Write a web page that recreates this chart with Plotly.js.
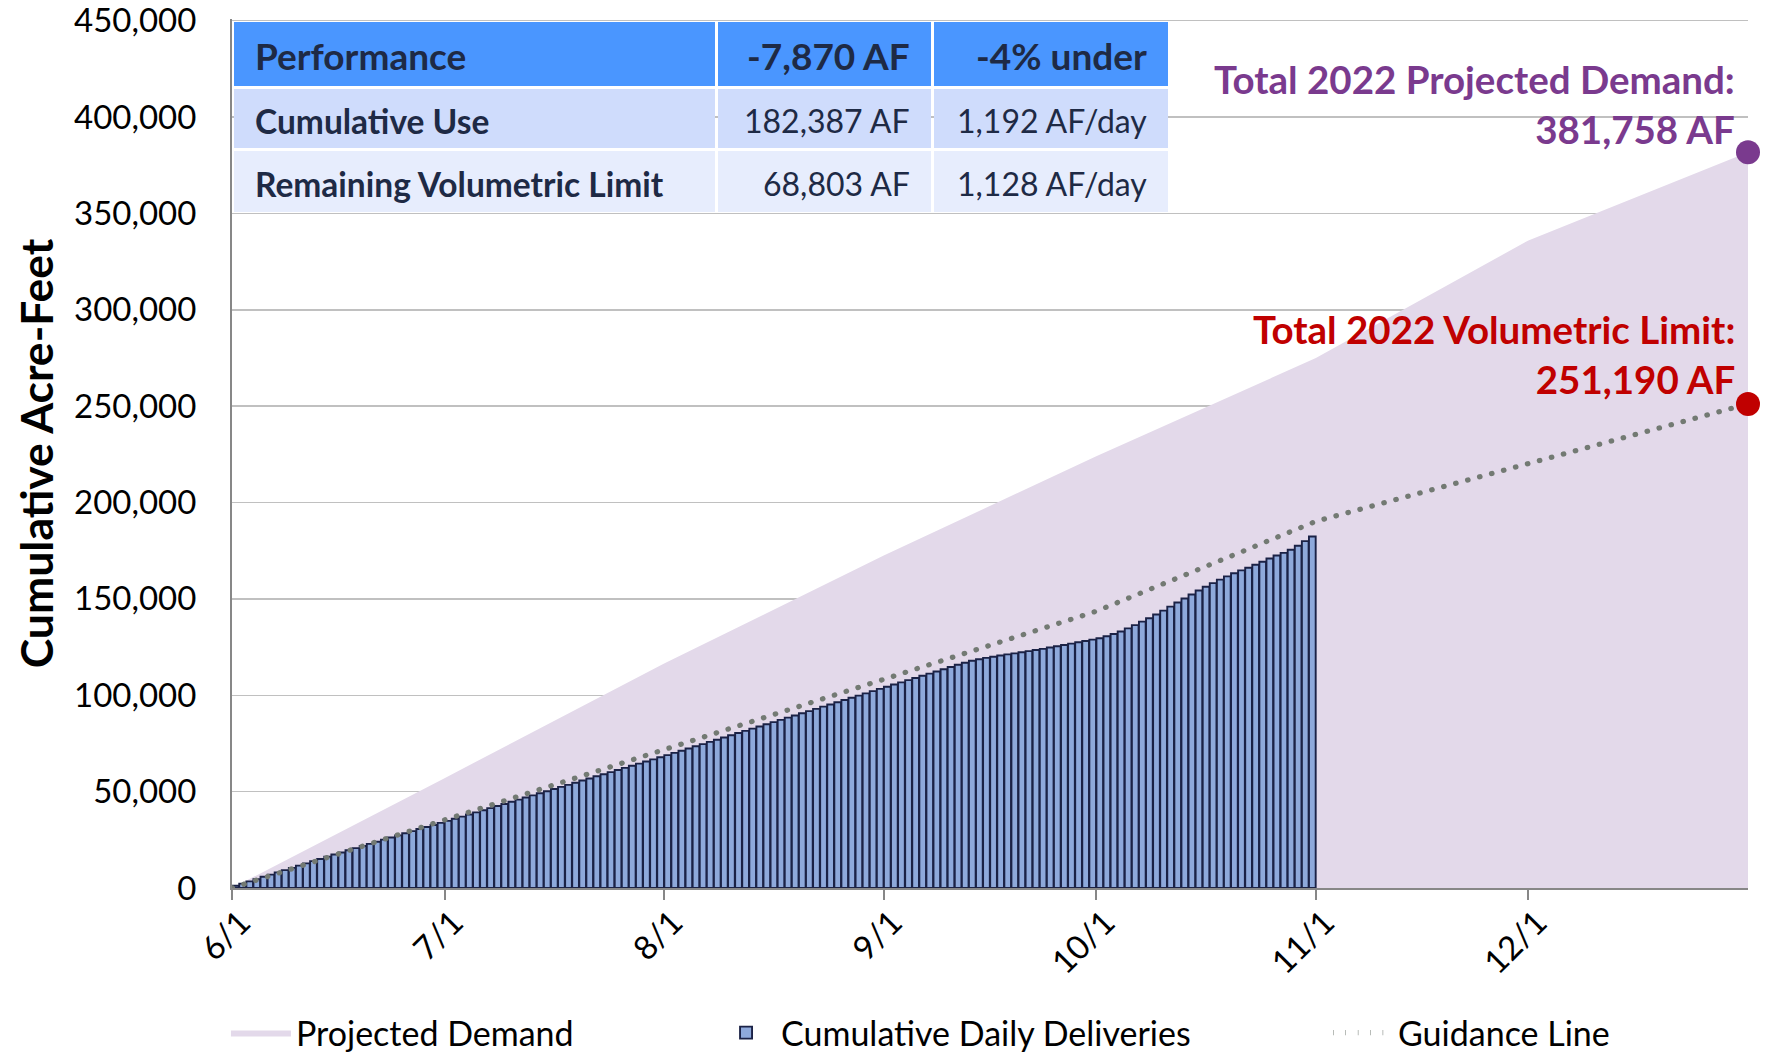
<!DOCTYPE html>
<html><head><meta charset="utf-8">
<script src="https://cdn.plot.ly/plotly-3.0.1.min.js"></script>
<style>
html,body{margin:0;padding:0;background:#fff;}
#chart{width:1774px;height:1057px;}
.scatterlayer .js-line, .legend .js-line {stroke-linecap: round;}
</style></head><body><div id="chart"></div>
<script>
// ---- data ----
const deliveryStart = [2022, 5, 1]; // 2022-06-01
const deliveries = [
  // June
  1150, 2280, 3450, 4620, 5800, 6950, 8120, 9300, 10450, 11620,
  12800, 13920, 15050, 16200, 17350, 18450, 19560, 20700, 21800, 22900,
  24000, 25120, 26200, 27300, 28400, 29500, 30580, 31650, 32700, 33780,
  // July
  34850, 35950, 37020, 38150, 39250, 40330, 41450, 42550, 43620, 44750,
  45850, 46930, 48050, 49150, 50220, 51350, 52450, 53530, 54650, 55750,
  56820, 57950, 59050, 60120, 61250, 62350, 63430, 64550, 65650, 66720, 67850,
  // August
  68950, 70100, 71250, 72380, 73550, 74650, 75800, 76950, 78080, 79250,
  80400, 81520, 82700, 83800, 84950, 86080, 87250, 88400, 89500, 90650,
  91800, 92930, 94100, 95250, 96380, 97550, 98700, 99830, 101000, 102150, 103300,
  // September
  104450, 105600, 106700, 107850, 109000, 110100, 111250, 112350, 113500, 114650,
  115800, 116900, 117900, 118700, 119400, 120000, 120600, 121200, 121750, 122300,
  122900, 123500, 124100, 124750, 125400, 126100, 126800, 127500, 128200, 128900,
  // October
  129600, 130600, 131800, 133100, 134700, 136400, 138200, 140000, 141900, 143900,
  146000, 148100, 150200, 152300, 154400, 156300, 158200, 160000, 161700, 163300,
  164800, 166200, 167700, 169300, 171000, 172500, 173900, 175500, 177600, 180000, 182387
];
const monthStarts = ['2022-06-01','2022-07-01','2022-08-01','2022-09-01','2022-10-01','2022-11-01','2022-12-01','2023-01-01'];
const monthLabels = ['6/1','7/1','8/1','9/1','10/1','11/1','12/1'];
const projectedDemand = [0, 57000, 116500, 172500, 224000, 275000, 336000, 381758];
const guidanceLine = [0, 35300, 71900, 107900, 143600, 190257, 220500, 251190];
const yTicks = [0, 50000, 100000, 150000, 200000, 250000, 300000, 350000, 400000, 450000];

const tableHeader = ['Performance', '-7,870 AF', '-4% under'];
const tableRowLabels = ['Cumulative Use', 'Remaining Volumetric Limit'];
const tableAF = ['182,387 AF', '68,803 AF'];
const tablePerDay = ['1,192 AF/day', '1,128 AF/day'];

const seriesNames = ['Projected Demand', 'Cumulative Daily Deliveries', 'Guidance Line'];
const demandLabel = 'Total 2022 Projected Demand:';
const limitLabel = 'Total 2022 Volumetric Limit:';

// ---- build ----
const deliveryDates = deliveries.map((_, i) => {
  const d = new Date(Date.UTC(deliveryStart[0], deliveryStart[1], deliveryStart[2] + i));
  return d.toISOString().slice(0, 10);
});
const fmt = v => v.toLocaleString('en-US');
const last = a => a[a.length - 1];
const xRange = [monthStarts[0], last(monthStarts)];
const yRange = [0, last(yTicks) * 1.002];

const W = 1774, H = 1057;
const M = {l: 232, r: 26, t: 19, b: 169};
const plotW = W - M.l - M.r, plotH = H - M.t - M.b;
const px2x = X => (X - M.l) / plotW;
const px2y = Y => (H - M.b - Y) / plotH;

const purple = '#7A3A8E', red = '#C00000', navy = '#1E2A45';
const FONT = 'Lato, sans-serif';

const traces = [
  {
    type: 'scatter', mode: 'lines', name: seriesNames[0],
    x: monthStarts, y: projectedDemand, fill: 'tozeroy',
    fillcolor: '#E3D9EA', line: {color: '#E3D9EA', width: 0},
    xaxis: 'x', yaxis: 'y', legend: 'legend', hoverinfo: 'skip'
  },
  {
    type: 'bar', name: seriesNames[1],
    x: deliveryDates, y: deliveries,
    xperiod: 86400000, xperiodalignment: 'middle',
    marker: {color: '#8EA9DB', line: {color: '#1B2246', width: 1.9}},
    xaxis: 'x2', yaxis: 'y2', legend: 'legend2', hoverinfo: 'skip'
  },
  {
    type: 'scatter', mode: 'lines', name: seriesNames[2],
    x: monthStarts, y: guidanceLine,
    line: {color: '#737A73', width: 5.2, dash: '0.5px,11.9px'},
    xaxis: 'x2', yaxis: 'y2', legend: 'legend3', hoverinfo: 'skip'
  },
  {
    type: 'scatter', mode: 'markers', showlegend: false,
    x: [last(monthStarts)], y: [last(projectedDemand)],
    marker: {color: purple, size: 24},
    xaxis: 'x2', yaxis: 'y2', hoverinfo: 'skip', cliponaxis: false
  },
  {
    type: 'scatter', mode: 'markers', showlegend: false,
    x: [last(monthStarts)], y: [last(guidanceLine)],
    marker: {color: red, size: 24},
    xaxis: 'x2', yaxis: 'y2', hoverinfo: 'skip', cliponaxis: false
  }
];

// ---- info table (drawn with shapes + text annotations) ----
const tblCols = [{x0: 234, x1: 715, align: 'left'}, {x0: 718, x1: 931, align: 'right'}, {x0: 934, x1: 1168, align: 'right'}];
const tblRows = [{y0: 22, y1: 86, fill: '#4A96FF'}, {y0: 89, y1: 148, fill: '#CFDCFC'}, {y0: 151, y1: 212, fill: '#E7EDFD'}];
const tblText = [tableHeader, [tableRowLabels[0], tableAF[0], tablePerDay[0]], [tableRowLabels[1], tableAF[1], tablePerDay[1]]];
const cellPad = 19;
const shapes = [];
const annotations = [];
tblRows.forEach((row, r) => {
  tblCols.forEach((col, c) => {
    shapes.push({type: 'rect', xref: 'paper', yref: 'paper', layer: 'above',
      x0: px2x(col.x0), x1: px2x(col.x1), y0: px2y(row.y1), y1: px2y(row.y0),
      fillcolor: row.fill, line: {width: 0}});
    const bold = r === 0 || c === 0;
    const size = r === 0 ? 37 : (c === 0 ? 33.5 : 32);
    const txt = tblText[r][c];
    annotations.push({xref: 'paper', yref: 'paper', showarrow: false,
      x: px2x(col.align === 'left' ? col.x0 + cellPad : col.x1 - cellPad),
      y: px2y((row.y0 + row.y1) / 2 + 2),
      xanchor: col.align, yanchor: 'middle',
      text: bold ? '<b>' + txt + '</b>' : txt,
      font: {family: FONT, size: size, color: navy}});
  });
});

annotations.push(
  {
    x: last(monthStarts), y: last(projectedDemand), xref: 'x', yref: 'y',
    text: '<b>' + demandLabel + '<br>' + fmt(last(projectedDemand)) + ' AF</b>',
    showarrow: false, xanchor: 'right', yanchor: 'bottom', align: 'right',
    xshift: -11, yshift: -2, font: {size: 38.5, color: purple}
  },
  {
    x: last(monthStarts), y: last(guidanceLine), xref: 'x', yref: 'y',
    text: '<b>' + limitLabel + '<br>' + fmt(last(guidanceLine)) + ' AF</b>',
    showarrow: false, xanchor: 'right', yanchor: 'bottom', align: 'right',
    xshift: -11, yshift: 0, font: {size: 38.5, color: red}
  }
);

const axisGray = '#878787';
const legendBase = {orientation: 'h', yanchor: 'middle', xanchor: 'left', yref: 'container', y: 0.0227,
  font: {size: 34, color: '#000'}, bgcolor: 'rgba(0,0,0,0)', itemwidth: 60};

const layout = {
  width: W, height: H,
  margin: M,
  paper_bgcolor: 'white', plot_bgcolor: 'white',
  font: {family: FONT, color: '#000', size: 33},
  showlegend: true,
  bargap: 0.05,
  xaxis: {
    type: 'date', range: xRange, tickvals: monthStarts.slice(0, monthLabels.length), ticktext: monthLabels,
    tickangle: -45, ticks: 'outside', ticklen: 10, tickcolor: axisGray, tickwidth: 2,
    showline: true, linecolor: axisGray, linewidth: 2, showgrid: false, zeroline: false,
    tickfont: {size: 33}, ticklabelstandoff: -10, ticklabelshift: 9
  },
  yaxis: {
    range: yRange, tickvals: yTicks, tickformat: ',d', ticklabeloverflow: 'allow',
    showgrid: true, gridcolor: '#C0C0C0', gridwidth: 1.5,
    showline: true, linecolor: axisGray, linewidth: 2, zeroline: false, ticks: '',
    ticklabelstandoff: 27, tickfont: {size: 33},
    title: {text: '<b>Cumulative Acre-Feet</b>', font: {size: 44.5}, standoff: 6}
  },
  xaxis2: {type: 'date', range: xRange, overlaying: 'x', visible: false},
  yaxis2: {range: yRange, overlaying: 'y', visible: false},
  legend: Object.assign({}, legendBase, {x: -0.004}),
  legend2: Object.assign({}, legendBase, {x: 0.316}),
  legend3: Object.assign({}, legendBase, {x: 0.723}),
  shapes: shapes,
  annotations: annotations
};

Plotly.newPlot('chart', traces, layout, {staticPlot: true, displayModeBar: false});
</script></body></html>
